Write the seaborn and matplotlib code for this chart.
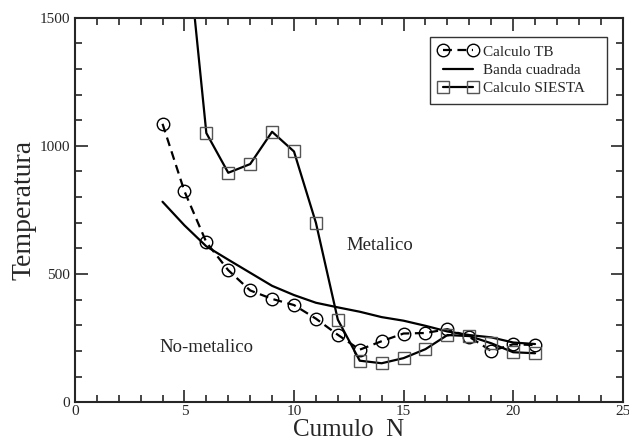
import matplotlib
matplotlib.use("Agg")
import matplotlib.pyplot as plt
import numpy as np
import seaborn as sns
from matplotlib.ticker import MultipleLocator

# data
n_tb = [4, 5, 6, 7, 8, 9, 10, 11, 12, 13, 14, 15, 16, 17, 18, 19, 20, 21]
t_tb = [1086, 823, 624, 515, 436, 403, 379, 326, 263, 205, 238, 268, 270, 285, 255, 200, 226, 223]

n_banda = [4, 5, 6, 7, 8, 9, 10, 11, 12, 13, 14, 15, 16, 17, 18, 19, 20, 21]
t_banda = [782, 690, 608, 556, 505, 454, 418, 388, 370, 353, 332, 318, 298, 276, 262, 253, 233, 227]

n_siesta = [5, 6, 7, 8, 9, 10, 11, 12, 13, 14, 15, 16, 17, 18, 19, 20, 21]
t_siesta = [1900, 1050, 895, 929, 1055, 978, 700, 322, 162, 152, 172, 207, 262, 258, 230, 195, 191]

sns.set_style("ticks")
plt.rcParams['font.family'] = ['Liberation Serif', 'DejaVu Serif']

fig, ax = plt.subplots(figsize=(6.29, 4.42), dpi=100)

sns.lineplot(x=n_tb, y=t_tb, ax=ax, color='black', linestyle=(0, (4, 2.5)), lw=1.6,
             marker='o', markersize=9, markerfacecolor='none', markeredgecolor='black',
             markeredgewidth=1.0, label='Calculo TB')
sns.lineplot(x=n_banda, y=t_banda, ax=ax, color='black', lw=1.6, label='Banda cuadrada')
sns.lineplot(x=n_siesta, y=t_siesta, ax=ax, color='black', lw=1.6,
             marker='s', markersize=8, markerfacecolor='none', markeredgecolor='#555555',
             markeredgewidth=1.0, label='Calculo SIESTA')

ax.set_xlim(0, 25)
ax.set_ylim(0, 1500)
ax.xaxis.set_major_locator(MultipleLocator(5))
ax.xaxis.set_minor_locator(MultipleLocator(1))
ax.yaxis.set_major_locator(MultipleLocator(500))
ax.yaxis.set_minor_locator(MultipleLocator(100))
ax.tick_params(which='both', direction='in', top=True, right=True, labelsize=11, width=1.2)
ax.tick_params(which='major', length=9)
ax.tick_params(which='minor', length=5)
ax.tick_params(axis='x', pad=2)
for s in ax.spines.values():
    s.set_linewidth(1.5)

ax.set_xlabel('Cumulo  N', fontsize=18, labelpad=1)
ax.set_ylabel('Temperatura', fontsize=20, labelpad=2)

ax.text(13.9, 613, 'Metalico', fontsize=13.5, ha='center', va='center')
ax.text(6.0, 215, 'No-metalico', fontsize=13.5, ha='center', va='center')

leg = ax.legend(loc='upper left', bbox_to_anchor=(0.648, 0.951, 0.323, 0.0), mode='expand',
                borderaxespad=0, numpoints=2, fontsize=11,
                frameon=True, fancybox=False, edgecolor='black', handlelength=2.6,
                borderpad=0.55, labelspacing=0.3, handletextpad=0.35)
leg.get_frame().set_linewidth(1.0)

fig.subplots_adjust(left=0.119, right=0.99, top=0.96, bottom=0.09)
fig.savefig('out.png', dpi=100)
